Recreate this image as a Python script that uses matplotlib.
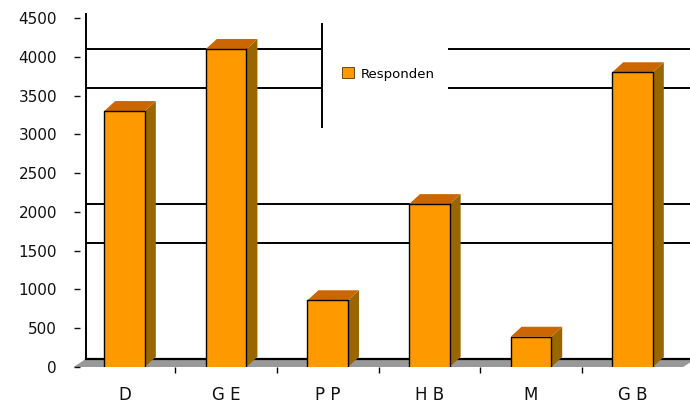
import matplotlib.pyplot as plt
from matplotlib.patches import Polygon, Rectangle, Patch

# Survey counts per category
categories = ['D', 'G E', 'P P', 'H B', 'M', 'G B']
responden = [3300, 4100, 860, 2100, 390, 3800]
series_name = 'Responden'

y_ticks = list(range(0, 4501, 500))
wall_grid = [1500, 2000, 3500, 4000]

front_col = '#FF9900'
top_col = '#CC6600'
side_col = '#996600'

W, H = 690, 405
fig = plt.figure(figsize=(W / 100, H / 100), dpi=100)
ax = fig.add_axes([73.7 / W, (H - 367) / H, 609.6 / W, 349 / H])
ax.set_xlim(-0.5, len(categories) - 0.5)
ax.set_ylim(0, 4500)
for s in ax.spines.values():
    s.set_visible(False)

# depth offsets of the fake 3d effect, in data units
px_per_cat = 609.6 / len(categories)
px_per_val = 349 / 4500
wx, wy = 12 / px_per_cat, 8 / px_per_val     # back wall
bx, by = 11 / px_per_cat, 10 / px_per_val    # bar depth

x0, x1 = -0.5, len(categories) - 0.5

# floor
ax.add_patch(Polygon([(x0, 0), (x1, 0), (x1 + wx, wy), (x0 + wx, wy)],
                     closed=True, facecolor='#999999', edgecolor='none',
                     zorder=1, clip_on=False))
ax.plot([x0 + wx, x1 + wx], [wy, wy], color='black', lw=1.6, zorder=2, clip_on=False)

# back wall edge and gridlines
ax.plot([x0 + wx, x0 + wx], [wy, 4500 + wy * 0.5], color='black', lw=1.4, zorder=2, clip_on=False)
for g in wall_grid:
    ax.plot([x0 + wx, x1 + wx + 1], [g + wy, g + wy], color='black', lw=1.4,
            zorder=2, clip_on=False)

# bars
w = 0.40
for i, v in enumerate(responden):
    l, r = i - w / 2, i + w / 2
    ax.add_patch(Polygon([(r, 0), (r + bx, by), (r + bx, v + by), (r, v)],
                         closed=True, facecolor=side_col, edgecolor='none',
                         zorder=3, clip_on=False))
    ax.add_patch(Polygon([(l, v), (r, v), (r + bx, v + by), (l + bx, v + by)],
                         closed=True, facecolor=top_col, edgecolor='none',
                         zorder=3, clip_on=False))
    ax.add_patch(Rectangle((l, 0), w, v, facecolor=front_col, edgecolor='none', zorder=4))
    ax.plot([l, l, r, r], [0, v, v, 0], color='black', lw=1.0, zorder=5)

# axes ticks and labels
ax.set_yticks(y_ticks)
ax.set_yticklabels([str(t) for t in y_ticks])
ax.tick_params(axis='y', direction='in', length=4, width=1, pad=12,
               labelsize=11, colors='#111111')
ax.set_xticks(range(len(categories)))
ax.set_xticklabels(categories)
ax.set_xticks([i + 0.5 for i in range(len(categories) - 1)], minor=True)
ax.tick_params(axis='x', which='major', length=0, pad=14, labelsize=12, colors='#111111')
ax.tick_params(axis='x', which='minor', length=4, width=1, color='black', direction='out')

# legend box: white area cutting the gridlines, with a left border
ax.add_patch(Rectangle((322 / W, 1 - 127 / H), 126 / W, 103 / H,
                       transform=fig.transFigure, facecolor='white',
                       edgecolor='none', zorder=6, clip_on=False))
ax.plot([322 / W, 322 / W], [1 - 24 / H, 1 - 127 / H], transform=fig.transFigure,
        color='black', lw=1.4, zorder=7, clip_on=False)
leg = ax.legend(handles=[Patch(facecolor=front_col, edgecolor='#553300', lw=0.6)],
                labels=[series_name], loc='center left',
                bbox_to_anchor=(330 / W, 1 - 74 / H), bbox_transform=fig.transFigure,
                frameon=False, handlelength=0.9, handleheight=0.9,
                handletextpad=0.5, fontsize=9.5)
leg.set_zorder(8)

fig.savefig('out.png', dpi=100)
